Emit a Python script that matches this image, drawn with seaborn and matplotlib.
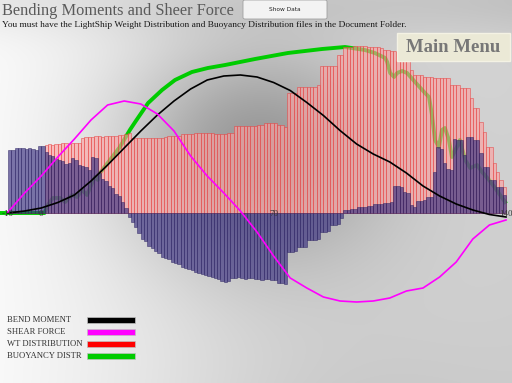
import numpy as np
import matplotlib
matplotlib.use("Agg")
import matplotlib.pyplot as plt
from matplotlib.patches import Rectangle, FancyBboxPatch
import seaborn as sns

# ---------------- data ----------------
stations = np.arange(-9.5, 140, 1.0)   # bar centres along the hull, one per metre

wt_distribution = [
    0, 0, 0, 0, 0, 0, 0, 0, 0, 0, 0,
    68, 69, 68, 69, 69, 70, 70, 69, 70, 70, 70,
    75, 76, 76, 76, 77, 77, 76, 77, 77, 77, 77, 78, 78, 79, 80,
    75, 75, 75, 75, 75, 75, 75, 75, 75, 75,
    76, 77, 77, 77, 77,
    79, 79, 79, 79, 80, 80, 80, 80, 80, 80, 79, 79, 79,
    79, 80, 80,
    87, 87, 87, 87, 87, 87, 87,
    88, 88, 90, 90, 90, 90, 88, 88,
    86,
    120, 120, 120,
    126, 126, 126, 126, 126, 126,
    128,
    147, 147, 147, 147, 147,
    158, 158,
    166, 166, 166, 167, 167, 167, 167, 166, 166, 166, 166, 165,
    163, 163, 162, 162, 161,
    160, 159, 158,
    143,
    138, 138, 138,
    136, 136, 136,
    135, 135, 135, 135, 135,
    128, 128, 128,
    125, 125, 125,
    115,
    105, 105,
    91,
    81,
    66, 66,
    50,
    41,
    33,
    26,
]

net_load = [
    63, 63, 65, 65, 65, 64, 65, 64, 63, 67, 67,
    61, 58, 57, 54, 53, 52, 49, 50, 55, 53,
    48, 47, 46, 43, 56, 55, 40, 34, 32, 27,
    25, 19, 17, 11, 5, -4, -9, -14, -20, -26,
    -28, -33, -35, -38, -40, -44, -45, -46, -49, -50,
    -51, -54, -55, -56, -57, -59, -60, -61, -62, -63,
    -64, -65, -66, -68, -69, -68, -65, -65, -64, -65,
    -66, -65, -65, -66, -66, -67, -66, -66, -67, -67,
    -70, -70, -71, -39, -39, -38, -34, -34, -34, -27,
    -27, -27, -26, -19, -19, -18, -12, -12, -11, -5,
    3, 3, 4, 4, 6, 6, 6, 7, 7, 9,
    9, 9, 10, 10, 11, 27, 27, 26, 21, 20,
    8, 6, 12, 12, 13, 16, 16, 41, 66, 64,
    50, 44, 43, 74, 73, 73, 58, 76, 76, 73,
    73, 60, 46, 46, 33, 33, 26, 26, 18,
]

curve_st = [-10, -5, 0, 5, 10, 15, 20, 25, 30, 35, 40, 45, 50, 55, 60, 65, 70,
            75, 80, 85, 90, 95, 100, 105, 110, 115, 120, 125, 130, 135, 140]
bend_moment = [0, 2, 5, 10.5, 18, 32, 48, 65, 82, 98, 112, 124, 133, 137, 138, 136,
               130.5, 122.5, 110.5, 97.5, 82.5, 69, 59, 51, 40, 27, 17, 9, 3, -1.5, -4]
shear_force = [1, 20, 37, 56, 74, 93, 108, 112, 109, 99, 82, 57, 37, 20, 2, -19,
               -43, -65, -75, -84, -88, -89, -88, -85, -78, -75, -64, -49, -26, -12, -7]

buoy_st = [-12.4, 1.0, 2.0, 3.5, 5.7, 7.2, 9.3, 10.8, 12.3, 13.8, 15.3, 16.2, 17.1,
           17.7, 20.7, 23.7, 26.7, 28.3, 32.2, 36.4, 40.3, 45.4, 50.2, 55.4, 64.4,
           74.3, 84.6, 91.5, 97.5, 100.5, 103.6, 104.2, 105.1, 106.3, 107.2, 108.7,
           110.2, 112.6, 115.6, 116.8, 117.7, 118.6, 119.8, 120.7, 121.6, 122.8,
           123.7, 125.2, 126.1, 127.7, 129.2, 131.3, 132.8, 134.9, 136.7, 139.7]
buoyancy = [0, 0, 8, 15, 15, 11, 18, 16, 23, 18, 30, 36, 33,
            40, 53, 66, 83, 91, 110, 123, 133, 141, 145, 148, 154,
            160, 164, 166, 163, 160, 155, 151, 140, 136, 140, 142,
            140, 131, 120, 116, 98, 73, 66, 83, 85, 73,
            56, 66, 73, 53, 45, 48, 41, 33, 25, 11]

tick_values = [-10, 0, 70, 140]
tick_labels = ["-10", "0", "70", "140"]

legend_labels = ["BEND MOMENT", "SHEAR FORCE", "WT DISTRIBUTION", "BUOYANCY DISTR"]
legend_colors = ["#000000", "#ff00ff", "#ff0000", "#00cc00"]

# ---------------- figure ----------------
W, H = 512, 383
fig = plt.figure(figsize=(W / 100, H / 100), dpi=100)

# background gradient
bg = fig.add_axes([0, 0, 1, 1], zorder=0)
yy, xx = np.mgrid[0:H, 0:W]
val = (0.98 - 0.15 * (xx / W)
       - 0.30 * np.exp(-(((xx - 250) / 135.0) ** 2 + ((yy - 150) / 115.0) ** 2))
       - 0.07 * np.exp(-((yy / 35.0) ** 2))
       - 0.08 * np.exp(-(((xx - 320) / 200.0) ** 2)) * (yy / H) ** 2)
val = np.clip(val, 0, 1)
bg.imshow(np.dstack([val, val, val]), extent=[0, 1, 0, 1], aspect="auto",
          origin="upper", interpolation="bilinear")
bg.set_axis_off()

ax = fig.add_axes([0, 0, 1, 1], zorder=1)
ax.patch.set_alpha(0)

serif = "Liberation Serif"

# buoyancy line (behind the bars)
sns.lineplot(x=buoy_st, y=buoyancy, color="#00cc00", linewidth=2.8, ax=ax,
             estimator=None, sort=False, zorder=1)

sns.barplot(x=stations, y=wt_distribution, native_scale=True, width=1,
            color="#ffa0a0", saturation=1, alpha=0.62, edgecolor="#e63a3a",
            linewidth=0.55, errorbar=None, ax=ax, zorder=2)
sns.barplot(x=stations, y=net_load, native_scale=True, width=1,
            color="#3a3080", saturation=1, alpha=0.66, edgecolor="#2a2060",
            linewidth=0.5, errorbar=None, ax=ax, zorder=3)

sns.lineplot(x=curve_st, y=bend_moment, color="black", linewidth=1.2, ax=ax,
             estimator=None, sort=False, zorder=5)
sns.lineplot(x=curve_st, y=shear_force, color="#ff00ff", linewidth=1.2, ax=ax,
             estimator=None, sort=False, zorder=5)

for v, t in zip(tick_values, tick_labels):
    ax.text(v, -1.5, t, ha="center", va="center", fontsize=6.5,
            family=serif, color="#333333", zorder=6)

ax.set_xlim(-12.41, 141.8)
ax.set_ylim(-170, 213)
ax.set_axis_off()

def fx(px):
    return px / W

def fy(py):
    return 1 - py / H

# title and subtitle
fig.text(fx(2), fy(11), "Bending Moments and Sheer Force", family=serif,
         fontsize=11.8, color="#5a5a5a", ha="left", va="center", zorder=5)
fig.text(fx(2), fy(25), "You must have the LightShip Weight Distribution and "
         "Buoyancy Distribution files in the Document Folder.", family=serif,
         fontsize=6.75, color="#1a1a1a", ha="left", va="center", zorder=5)

# Show Data button
fig.patches.append(FancyBboxPatch((fx(243), fy(19)), fx(84), 19 / H,
                                  boxstyle="round,pad=0,rounding_size=0.004",
                                  transform=fig.transFigure, facecolor="#f3f3f3",
                                  edgecolor="#a0a0a0", linewidth=0.6, zorder=4))
fig.text(fx(285), fy(9.5), "Show Data", fontsize=4.2, color="#222222",
         ha="center", va="center", zorder=5)

# Main Menu box
fig.patches.append(Rectangle((fx(397), fy(61)), fx(113), 28 / H,
                             transform=fig.transFigure, facecolor="#ebe9d6",
                             edgecolor="#f4f2e4", linewidth=1.0, zorder=4))
fig.text(fx(453), fy(47), "Main Menu", family=serif, fontsize=13.5,
         fontweight="bold", color="#777777", ha="center", va="center", zorder=5)

# legend
ys = [320, 332, 344, 356]
for lab, col, y in zip(legend_labels, legend_colors, ys):
    fig.text(fx(7), fy(y), lab, family=serif, fontsize=6.2, color="#333333",
             ha="left", va="center", zorder=5)
    fig.patches.append(Rectangle((fx(87), fy(y + 3)), fx(48), 6 / H,
                                 transform=fig.transFigure, facecolor=col,
                                 edgecolor="#c0c0c0", linewidth=0.5, zorder=4))

fig.savefig("out.png", dpi=100)
